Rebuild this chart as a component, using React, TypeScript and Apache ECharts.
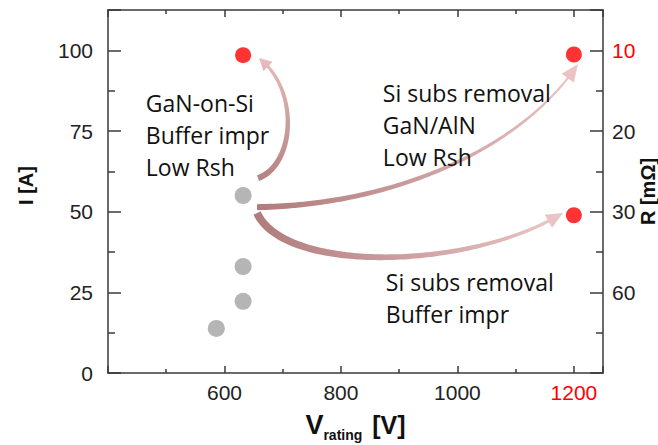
import React, { useEffect, useRef } from "react";
import * as echarts from "echarts";

// ---------------- data ----------------
const xTickValues = [600, 800, 1000, 1200];
const iTickValues = [0, 25, 50, 75, 100];
const rTickLabels = ["", "60", "30", "20", "10"]; // R [mΩ] labels placed at the I ticks
const grayV = [586, 632, 632, 632];
const grayI = [13.8, 22.2, 33.0, 55.0];
const redV = [632, 1200, 1200];
const redI = [98.5, 98.7, 48.9];

const noteTexts = [
  "GaN-on-Si\nBuffer impr\nLow Rsh",
  "Si subs removal\nGaN/AlN\nLow Rsh",
  "Si subs removal\nBuffer impr",
];
const noteV = [465, 872, 877];
const noteI = [88.6, 91.7, 33.2];

// curved arrows: cubic bezier control points (data coordinates)
const arrowV = [
  [657.6, 721.1, 729.7, 659.3],
  [655.9, 901.4, 1116.1, 1207.1],
  [655.9, 703.9, 1021.6, 1181.3],
];
const arrowI = [
  [60.4, 64.5, 87.7, 97.6],
  [51.4, 52.1, 70.7, 95.8],
  [49.6, 30.8, 31.8, 49.6],
];

// ---------------- styles ----------------
const arrowLook = [
  { tailW: 6, neckW: 3, headW: 13, headL: 12, tail: "#b58484", head: "#e8bcbc" },
  { tailW: 6, neckW: 2, headW: 15, headL: 16, tail: "#b07c7c", head: "#ecc6c6" },
  { tailW: 8, neckW: 3, headW: 15, headL: 16, tail: "#b07c7c", head: "#ecc6c6" },
];
const AXIS = "#3a3a3a";
const LABEL = "#222222";
const RED = "#ff0000";

function bez(p: number[][], t: number) {
  const u = 1 - t;
  const a = u * u * u, b = 3 * u * u * t, c = 3 * u * t * t, d = t * t * t;
  return [
    a * p[0][0] + b * p[1][0] + c * p[2][0] + d * p[3][0],
    a * p[0][1] + b * p[1][1] + c * p[2][1] + d * p[3][1],
  ];
}

function arrowPolygon(p: number[][], look: any) {
  const N = 100;
  const pts: number[][] = [];
  const cum: number[] = [0];
  for (let k = 0; k <= N; k++) {
    pts.push(bez(p, k / N));
    if (k > 0) {
      const dx = pts[k][0] - pts[k - 1][0];
      const dy = pts[k][1] - pts[k - 1][1];
      cum.push(cum[k - 1] + Math.hypot(dx, dy));
    }
  }
  const L = cum[N];
  const bodyEnd = L - look.headL;
  const left: number[][] = [];
  const right: number[][] = [];
  let baseIdx = 0;
  for (let k = 0; k <= N; k++) {
    if (cum[k] > bodyEnd) break;
    const a = pts[Math.max(0, k - 1)];
    const b = pts[Math.min(N, k + 1)];
    let tx = b[0] - a[0], ty = b[1] - a[1];
    const len = Math.hypot(tx, ty) || 1;
    tx /= len; ty /= len;
    const nx = -ty, ny = tx;
    const w = look.tailW + (look.neckW - look.tailW) * (cum[k] / bodyEnd);
    left.push([pts[k][0] + (nx * w) / 2, pts[k][1] + (ny * w) / 2]);
    right.push([pts[k][0] - (nx * w) / 2, pts[k][1] - (ny * w) / 2]);
    baseIdx = k;
  }
  const base = pts[baseIdx];
  const tip = pts[N];
  let dx = tip[0] - base[0], dy = tip[1] - base[1];
  const dl = Math.hypot(dx, dy) || 1;
  dx /= dl; dy /= dl;
  const nx = -dy, ny = dx;
  const hw = look.headW / 2;
  return [
    ...left,
    [base[0] + nx * hw, base[1] + ny * hw],
    tip,
    [base[0] - nx * hw, base[1] - ny * hw],
    ...right.reverse(),
  ];
}

export default function App() {
  const ref = useRef<HTMLDivElement>(null);

  useEffect(() => {
    if (!ref.current) return;
    const chart = echarts.init(ref.current, null, { renderer: "svg" });

    const lineStyle = { color: AXIS, width: 1.5 };
    const xCommon = {
      type: "value",
      min: 400,
      max: 1250,
      interval: 200,
      axisLine: { show: true, onZero: false, lineStyle },
      axisTick: { show: true, inside: true, length: 7, lineStyle },
      minorTick: { show: true, splitNumber: 2, length: 4, lineStyle },
      splitLine: { show: false },
      minorSplitLine: { show: false },
    };
    const yCommon = {
      type: "value",
      min: 0,
      max: 112.5,
      interval: 25,
      axisLine: { show: true, onZero: false, lineStyle },
      axisTick: { show: true, inside: true, length: 13, lineStyle },
      minorTick: { show: true, splitNumber: 2, length: 7, lineStyle },
      splitLine: { show: false },
      minorSplitLine: { show: false },
    };

    chart.setOption({
      animation: false,
      backgroundColor: "#ffffff",
      grid: { left: 108, right: 55, top: 10, bottom: 72, containLabel: false, outerBoundsMode: "none" },
      xAxis: [
        {
          ...xCommon,
          position: "bottom",
          axisLabel: {
            formatter: (v: number) => (xTickValues.includes(v) ? String(v) : ""),
            color: (v: any) => (Number(v) === 1200 ? RED : LABEL),
            fontSize: 21,
            fontFamily: "Liberation Sans",
            margin: 9,
          },
          name: "{v|V}{s|rating}{g| }{b|[V]}",
          nameLocation: "middle",
          nameGap: 35,
          nameMoveOverlap: false,
          nameTextStyle: {
            rich: {
              v: { fontSize: 27, fontWeight: "bold", fontFamily: "Liberation Sans", color: "#111", lineHeight: 34, verticalAlign: "middle" },
              s: { fontSize: 14, fontWeight: "bold", fontFamily: "Liberation Sans", color: "#111", lineHeight: 33, verticalAlign: "bottom" },
              g: { fontSize: 14, width: 10, lineHeight: 34 },
              b: { fontSize: 25, fontWeight: "bold", fontFamily: "Liberation Sans", color: "#111", lineHeight: 34, verticalAlign: "middle" },
            },
          },
        },
        {
          ...xCommon,
          position: "top",
          axisLabel: { show: false },
        },
      ],
      yAxis: [
        {
          ...yCommon,
          position: "left",
          axisLabel: {
            formatter: (v: number) => (iTickValues.includes(v) ? String(v) : ""),
            color: LABEL,
            fontSize: 21,
            fontFamily: "Liberation Sans",
            margin: 15,
          },
          name: "I [A]",
          nameLocation: "middle",
          nameRotate: 90,
          nameGap: 72,
          nameMoveOverlap: false,
          nameTextStyle: {
            fontSize: 20,
            fontWeight: "bold",
            fontFamily: "Liberation Sans",
            color: "#111",
            padding: [0, 0, 0, 12],
          },
        },
        {
          ...yCommon,
          position: "right",
          axisLabel: {
            formatter: (v: number) => {
              const k = iTickValues.indexOf(v);
              return k >= 0 ? rTickLabels[k] : "";
            },
            color: (v: any) => (Number(v) === 100 ? RED : LABEL),
            fontSize: 21,
            fontFamily: "Liberation Sans",
            margin: 9,
          },
          name: "R [mΩ]",
          nameLocation: "middle",
          nameRotate: 90,
          nameGap: 35,
          nameMoveOverlap: false,
          nameTextStyle: { fontSize: 20, fontWeight: "bold", fontFamily: "Liberation Sans", color: "#111" },
        },
      ],
      series: [
        {
          type: "custom",
          coordinateSystem: "cartesian2d",
          xAxisIndex: 0,
          yAxisIndex: 0,
          silent: true,
          clip: false,
          z: 1,
          data: arrowV.map((a, i) => [a[0], arrowI[i][0]]),
          renderItem: (params: any, api: any) => {
            const i = params.dataIndex;
            const p = arrowV[i].map((v, k) => api.coord([v, arrowI[i][k]]));
            const look = arrowLook[i];
            const points = arrowPolygon(p, look);
            return {
              type: "polygon",
              shape: { points },
              style: {
                fill: new echarts.graphic.LinearGradient(
                  p[0][0], p[0][1], p[3][0], p[3][1],
                  [
                    { offset: 0, color: look.tail },
                    { offset: 1, color: look.head },
                  ],
                  true
                ),
                stroke: "none",
              },
            };
          },
        },
        {
          type: "custom",
          coordinateSystem: "cartesian2d",
          xAxisIndex: 0,
          yAxisIndex: 0,
          silent: true,
          clip: false,
          z: 2,
          data: noteV.map((v, i) => [v, noteI[i]]),
          renderItem: (params: any, api: any) => {
            const i = params.dataIndex;
            const c = api.coord([noteV[i], noteI[i]]);
            return {
              type: "text",
              x: c[0],
              y: c[1],
              style: {
                text: noteTexts[i],
                fill: "#111111",
                fontSize: 23,
                fontFamily: "Open Sans",
                lineHeight: 32,
                align: "left",
                verticalAlign: "top",
              },
            };
          },
        },
        {
          type: "scatter",
          xAxisIndex: 0,
          yAxisIndex: 0,
          z: 3,
          symbolSize: 17,
          itemStyle: { color: "#a3a3a3" },
          data: grayV.map((v, i) => [v, grayI[i]]),
        },
        {
          type: "scatter",
          xAxisIndex: 0,
          yAxisIndex: 0,
          z: 4,
          symbolSize: 16,
          itemStyle: { color: RED },
          data: redV.map((v, i) => [v, redI[i]]),
        },
      ],
    });

    return () => chart.dispose();
  }, []);

  return (
    <div
      ref={ref}
      style={{ position: "fixed", left: 0, top: 0, width: 658, height: 445, background: "#fff" }}
    />
  );
}
